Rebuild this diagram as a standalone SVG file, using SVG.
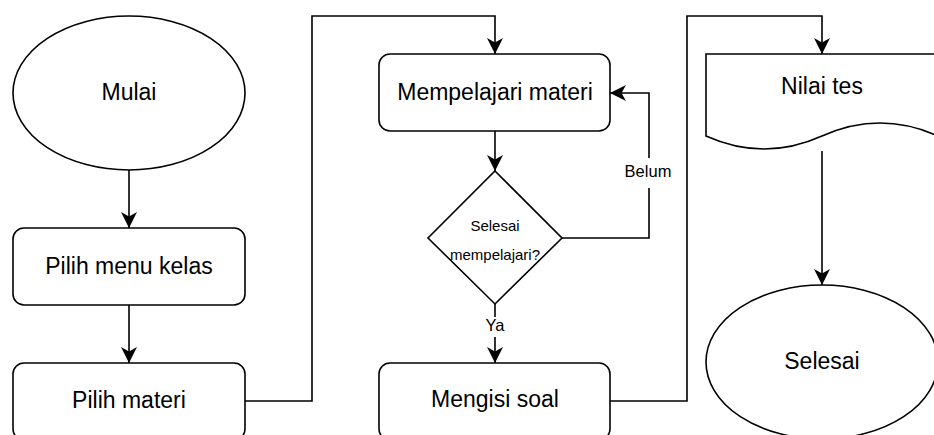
<svg xmlns="http://www.w3.org/2000/svg" width="934" height="435" viewBox="0 0 934 435">
<style>
.shape{fill:#fff;stroke:#000;stroke-width:1.6}
.edge{fill:none;stroke:#000;stroke-width:1.6;marker-end:url(#arr)}
.t{font-family:"Liberation Sans",Arial,Helvetica,sans-serif;font-size:23px;fill:#000;text-anchor:middle}
.s{font-family:"Liberation Sans",Arial,Helvetica,sans-serif;font-size:15px;fill:#000;text-anchor:middle}
.l{font-family:"Liberation Sans",Arial,Helvetica,sans-serif;font-size:16.5px;fill:#000;text-anchor:middle}
</style>
<defs>
<marker id="arr" markerUnits="userSpaceOnUse" markerWidth="17" markerHeight="17" viewBox="0 0 17 17" refX="16" refY="8.5" orient="auto">
<path d="M0,0.5 L16,8.5 L0,16.5 L4.5,8.5 Z" fill="#000"/>
</marker>
</defs>
<rect width="934" height="435" fill="#fff"/>
<g id="connectors">
<path class="edge" d="M129,170 V228"/>
<path class="edge" d="M129,305 V363"/>
<path class="edge" d="M245,401 H312 V16 H495 V54"/>
<path class="edge" d="M495,131 V171"/>
<path class="edge" d="M562,238 H649 V93 H610"/>
<path class="edge" d="M495,304 V363"/>
<path class="edge" d="M610,401 H687 V16 H822 V54"/>
<path class="edge" d="M822,151 V285"/>
<g id="label-belum">
<rect x="623" y="158" width="52" height="30" fill="#fff"/>
<text class="l" x="648" y="177">Belum</text>
</g>
<g id="label-ya">
<rect x="484" y="317" width="22" height="20" fill="#fff"/>
<text class="l" x="495" y="331">Ya</text>
</g>
</g>
<g id="mulai">
<ellipse class="shape" cx="129" cy="93" rx="116" ry="77"/>
<text class="t" x="129" y="100">Mulai</text>
</g>
<g id="pilih-menu-kelas">
<rect class="shape" x="13" y="228" width="232" height="77" rx="11"/>
<text class="t" x="129" y="274">Pilih menu kelas</text>
</g>
<g id="pilih-materi">
<rect class="shape" x="13" y="363" width="232" height="77" rx="11"/>
<text class="t" x="129" y="408">Pilih materi</text>
</g>
<g id="mempelajari-materi">
<rect class="shape" x="379" y="54" width="231" height="77" rx="11"/>
<text class="t" x="495" y="100">Mempelajari materi</text>
</g>
<g id="selesai-mempelajari">
<path class="shape" d="M495,171 L562,238 L495,304 L428,238 Z"/>
<text class="s" x="495" y="231">Selesai</text>
<text class="s" x="495" y="260">mempelajari?</text>
</g>
<g id="mengisi-soal">
<rect class="shape" x="379" y="363" width="231" height="77" rx="11"/>
<text class="t" x="495" y="407">Mengisi soal</text>
</g>
<g id="nilai-tes">
<path class="shape" d="M706,54 H938 V136 Q880,110 822,136 Q764,162 706,136 Z"/>
<text class="t" x="822" y="94">Nilai tes</text>
</g>
<g id="selesai">
<ellipse class="shape" cx="822" cy="362" rx="116" ry="77"/>
<text class="t" x="822" y="369">Selesai</text>
</g>
</svg>
